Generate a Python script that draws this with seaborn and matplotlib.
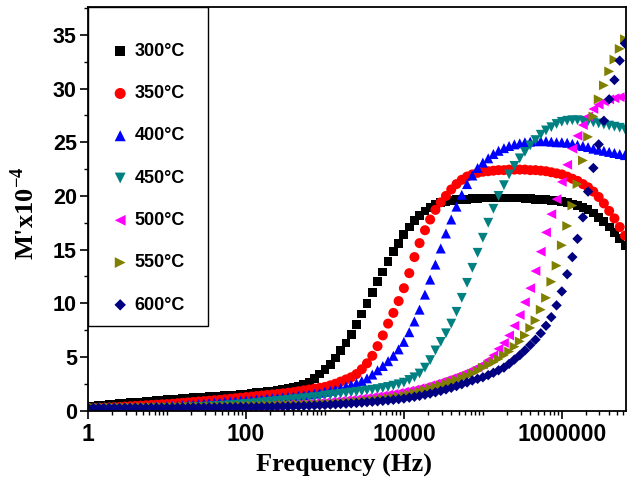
import matplotlib
matplotlib.use("Agg")
import numpy as np
import matplotlib.pyplot as plt
import seaborn as sns
from matplotlib.ticker import FixedLocator, LogLocator, MultipleLocator, FuncFormatter, NullFormatter
from matplotlib.patches import Rectangle

# ---------------- data ----------------
freq = [1, 1.17, 1.36, 1.58, 1.85, 2.15, 2.51, 2.93, 3.41, 3.98, 4.64, 5.41, 6.31, 7.36, 8.58,
        10, 11.7, 13.6, 15.8, 18.5, 21.5, 25.1, 29.3, 34.1, 39.8, 46.4, 54.1, 63.1, 73.6, 85.8,
        100, 117, 136, 158, 185, 215, 251, 293, 341, 398, 464, 541, 631, 736, 858,
        1000, 1170, 1360, 1580, 1850, 2150, 2510, 2930, 3410, 3980, 4640, 5410, 6310, 7360, 8580,
        1.0e4, 1.17e4, 1.36e4, 1.58e4, 1.85e4, 2.15e4, 2.51e4, 2.93e4, 3.41e4, 3.98e4, 4.64e4, 5.41e4, 6.31e4, 7.36e4, 8.58e4,
        1.0e5, 1.17e5, 1.36e5, 1.58e5, 1.85e5, 2.15e5, 2.51e5, 2.93e5, 3.41e5, 3.98e5, 4.64e5, 5.41e5, 6.31e5, 7.36e5, 8.58e5,
        1.0e6, 1.17e6, 1.36e6, 1.58e6, 1.85e6, 2.15e6, 2.51e6, 2.93e6, 3.41e6, 3.98e6, 4.64e6, 5.41e6, 6.31e6]

m300 = [0.35, 0.4, 0.45, 0.5, 0.55, 0.6, 0.64, 0.68, 0.72, 0.76, 0.8, 0.84, 0.88, 0.92, 0.96,
        1.0, 1.04, 1.08, 1.11, 1.15, 1.18, 1.22, 1.25, 1.28, 1.32, 1.35, 1.38, 1.42, 1.45, 1.5,
        1.55, 1.6, 1.65, 1.7, 1.76, 1.82, 1.9, 1.98, 2.06, 2.15, 2.27, 2.42, 2.6, 3.0, 3.4,
        3.8, 4.3, 4.9, 5.6, 6.3, 7.1, 8.0, 9.0, 10.0, 11.0, 12.0, 12.9, 13.9, 14.8, 15.6,
        16.4, 17.1, 17.7, 18.2, 18.6, 18.9, 19.2, 19.4, 19.5, 19.6, 19.65, 19.7, 19.7, 19.75, 19.75,
        19.8, 19.8, 19.8, 19.8, 19.8, 19.8, 19.8, 19.8, 19.75, 19.75, 19.7, 19.7, 19.65, 19.6, 19.55,
        19.5, 19.4, 19.25, 19.1, 18.9, 18.7, 18.4, 18.0, 17.6, 17.1, 16.6, 16.0, 15.4]

m350 = [0.2, 0.22, 0.24, 0.26, 0.28, 0.31, 0.34, 0.37, 0.4, 0.43, 0.46, 0.49, 0.52, 0.55, 0.58,
        0.6, 0.64, 0.68, 0.72, 0.76, 0.8, 0.84, 0.88, 0.92, 0.96, 1.0, 1.05, 1.1, 1.15, 1.2,
        1.25, 1.3, 1.35, 1.4, 1.45, 1.5, 1.55, 1.6, 1.66, 1.72, 1.8, 1.88, 1.96, 2.05, 2.12,
        2.2, 2.35, 2.5, 2.7, 2.9, 3.1, 3.4, 3.85, 4.4, 5.1, 6.0, 7.0, 8.1, 9.1, 10.2,
        11.4, 12.8, 14.3, 15.6, 16.8, 17.8, 18.7, 19.4, 20.0, 20.6, 21.1, 21.5, 21.8, 22.0, 22.15,
        22.25, 22.3, 22.35, 22.4, 22.4, 22.45, 22.45, 22.45, 22.45, 22.4, 22.4, 22.35, 22.3, 22.2, 22.1,
        22.0, 21.8, 21.6, 21.4, 21.1, 20.8, 20.4, 19.9, 19.3, 18.6, 17.9, 17.1, 16.3]

m400 = [0.15, 0.16, 0.17, 0.18, 0.19, 0.2, 0.22, 0.24, 0.26, 0.28, 0.3, 0.32, 0.34, 0.36, 0.38,
        0.4, 0.43, 0.46, 0.5, 0.53, 0.57, 0.61, 0.65, 0.69, 0.73, 0.77, 0.81, 0.85, 0.89, 0.92,
        0.95, 0.99, 1.03, 1.07, 1.11, 1.15, 1.19, 1.23, 1.27, 1.32, 1.37, 1.43, 1.5, 1.58, 1.66,
        1.75, 1.85, 1.95, 2.1, 2.25, 2.4, 2.55, 2.75, 3.0, 3.35, 3.75, 4.15, 4.6, 5.1, 5.7,
        6.4, 7.3, 8.3, 9.4, 10.8, 12.2, 13.6, 15.1, 16.5, 17.8, 19.0, 20.1, 21.1, 21.9, 22.6,
        23.1, 23.5, 23.9, 24.2, 24.45, 24.65, 24.8, 24.9, 25.0, 25.05, 25.1, 25.1, 25.1, 25.05, 25.0,
        25.0, 24.95, 24.85, 24.75, 24.65, 24.55, 24.4, 24.3, 24.2, 24.1, 24.0, 23.9, 23.8]

m450 = [0.1, 0.1, 0.11, 0.11, 0.12, 0.12, 0.13, 0.13, 0.14, 0.15, 0.16, 0.17, 0.18, 0.19, 0.2,
        0.2, 0.22, 0.24, 0.26, 0.28, 0.3, 0.32, 0.34, 0.37, 0.4, 0.43, 0.46, 0.5, 0.54, 0.58,
        0.62, 0.66, 0.7, 0.75, 0.8, 0.85, 0.9, 0.95, 1.0, 1.05, 1.1, 1.15, 1.2, 1.25, 1.3,
        1.4, 1.45, 1.5, 1.56, 1.62, 1.68, 1.74, 1.8, 1.87, 1.94, 2.0, 2.1, 2.2, 2.32, 2.45,
        2.6, 2.85, 3.1, 3.45, 4.0, 4.7, 5.6, 6.4, 7.2, 8.1, 9.2, 10.5, 11.9, 13.3, 14.7,
        16.1, 17.5, 18.8, 20.0, 21.0, 22.0, 22.8, 23.5, 24.1, 24.7, 25.2, 25.7, 26.1, 26.4, 26.7,
        26.9, 27.0, 27.05, 27.05, 27.0, 26.95, 26.85, 26.75, 26.65, 26.55, 26.45, 26.35, 26.2]

m500 = [0.05, 0.05, 0.06, 0.06, 0.07, 0.07, 0.08, 0.08, 0.09, 0.09, 0.1, 0.1, 0.11, 0.11, 0.12,
        0.12, 0.13, 0.14, 0.15, 0.16, 0.17, 0.18, 0.19, 0.2, 0.21, 0.22, 0.23, 0.25, 0.27, 0.29,
        0.31, 0.33, 0.35, 0.37, 0.39, 0.42, 0.45, 0.48, 0.51, 0.54, 0.57, 0.6, 0.64, 0.68, 0.72,
        0.76, 0.8, 0.85, 0.9, 0.95, 1.0, 1.06, 1.12, 1.18, 1.25, 1.32, 1.4, 1.48, 1.56, 1.65,
        1.75, 1.85, 1.96, 2.08, 2.2, 2.35, 2.5, 2.66, 2.83, 3.0, 3.18, 3.37, 3.57, 3.8, 4.05,
        4.3, 4.7, 5.15, 5.75, 6.3, 7.0, 7.9, 8.9, 10.1, 11.4, 13.0, 14.8, 16.6, 18.3, 19.7,
        21.3, 22.9, 24.4, 25.6, 26.6, 27.4, 28.1, 28.5, 28.8, 29.0, 29.1, 29.2, 29.2]

m550 = [0.3, 0.3, 0.3, 0.3, 0.31, 0.31, 0.31, 0.31, 0.32, 0.32, 0.32, 0.33, 0.33, 0.33, 0.34,
        0.34, 0.35, 0.35, 0.36, 0.36, 0.37, 0.37, 0.38, 0.39, 0.4, 0.41, 0.42, 0.43, 0.44, 0.45,
        0.46, 0.47, 0.48, 0.49, 0.5, 0.51, 0.52, 0.53, 0.54, 0.55, 0.56, 0.57, 0.58, 0.59, 0.6,
        0.62, 0.64, 0.67, 0.7, 0.74, 0.78, 0.82, 0.86, 0.91, 0.96, 1.02, 1.08, 1.15, 1.22, 1.3,
        1.4, 1.5, 1.62, 1.75, 1.9, 2.05, 2.2, 2.35, 2.5, 2.67, 2.85, 3.03, 3.22, 3.45, 3.7,
        4.0, 4.25, 4.5, 4.8, 5.15, 5.5, 5.95, 6.45, 7.0, 7.7, 8.4, 9.4, 10.5, 12.0, 13.5,
        15.4, 17.2, 19.1, 21.1, 23.3, 25.5, 27.4, 29.0, 30.3, 31.6, 32.7, 33.7, 34.6]

m600 = [0.25, 0.25, 0.25, 0.25, 0.25, 0.25, 0.25, 0.25, 0.26, 0.26, 0.26, 0.26, 0.26, 0.27, 0.27,
        0.27, 0.27, 0.28, 0.28, 0.28, 0.29, 0.29, 0.29, 0.3, 0.3, 0.31, 0.31, 0.32, 0.32, 0.33,
        0.33, 0.34, 0.34, 0.35, 0.35, 0.36, 0.37, 0.38, 0.39, 0.4, 0.42, 0.44, 0.46, 0.48, 0.5,
        0.52, 0.55, 0.58, 0.61, 0.64, 0.67, 0.7, 0.74, 0.78, 0.82, 0.86, 0.9, 0.95, 1.0, 1.06,
        1.12, 1.2, 1.28, 1.37, 1.47, 1.58, 1.7, 1.83, 1.97, 2.12, 2.28, 2.45, 2.62, 2.8, 2.95,
        3.1, 3.3, 3.52, 3.75, 4.0, 4.35, 4.75, 5.15, 5.6, 6.1, 6.6, 7.2, 7.9, 8.7, 9.8,
        11.1, 12.7, 14.3, 16.0, 18.0, 20.4, 22.6, 24.8, 27.0, 29.0, 30.8, 32.6, 34.2]

labels = ["300°C", "350°C", "400°C", "450°C", "500°C", "550°C", "600°C"]
series = [m300, m350, m400, m450, m500, m550, m600]

x_ticks = [1, 100, 10000, 1000000]
y_ticks = [0, 5, 10, 15, 20, 25, 30, 35]

# ---------------- styles ----------------
colors = ["#000000", "#FF0000", "#0000FF", "#008080", "#FF00FF", "#808000", "#000080"]
markers = ["s", "o", "^", "v", "<", ">", "D"]
sizes = [40, 52, 52, 50, 50, 50, 28]

sns.set_theme(style="ticks")
plt.rcParams["font.family"] = ["Liberation Sans", "DejaVu Sans"]
plt.rcParams["font.weight"] = "bold"
plt.rcParams["mathtext.fontset"] = "custom"
plt.rcParams["mathtext.rm"] = "Liberation Serif"
plt.rcParams["mathtext.bf"] = "Liberation Serif:bold"

fig = plt.figure(figsize=(6.27, 4.83), dpi=100)
ax = fig.add_axes([0.1404, 0.150, 0.858, 0.8355])

for lab, vals, mk, col, sz in zip(labels, series, markers, colors, sizes):
    sns.scatterplot(x=freq, y=vals, marker=mk, color=col, s=sz, edgecolor="none",
                    linewidth=0, label=lab, ax=ax)

ax.set_xscale("log")
ax.set_xlim(1, 6.5e6)
ax.set_ylim(0, 37.6)

ax.xaxis.set_major_locator(FixedLocator(x_ticks))
ax.xaxis.set_major_formatter(FuncFormatter(lambda v, p: f"{int(round(v))}"))
ax.xaxis.set_minor_locator(LogLocator(base=10, subs=np.arange(1, 10), numticks=100))
ax.xaxis.set_minor_formatter(NullFormatter())
ax.yaxis.set_major_locator(FixedLocator(y_ticks))
ax.yaxis.set_minor_locator(MultipleLocator(2.5))

ax.tick_params(axis="both", which="major", direction="out", length=6, width=1.2,
               color="black", labelcolor="black")
ax.tick_params(axis="both", which="minor", direction="out", length=3, width=1.0, color="black")
ax.tick_params(axis="x", which="major", labelsize=16.5, pad=3)
ax.tick_params(axis="y", which="major", labelsize=15.5, pad=2)
for t in ax.get_xticklabels() + ax.get_yticklabels():
    t.set_fontweight("bold")

for sp in ax.spines.values():
    sp.set_color("black")
    sp.set_linewidth(1.3)

ax.set_xlabel("Frequency (Hz)", fontfamily="Liberation Serif", fontweight="bold",
              fontsize=19, color="black", va="center", ha="center")
ax.xaxis.set_label_coords(0.475, -0.137)
ax.set_ylabel(r"M'x10$^{\mathbf{-4}}$", fontfamily="Liberation Serif", fontweight="bold",
              fontsize=19, color="black", va="center", ha="center")
ax.yaxis.set_label_coords(-0.117, 0.488)

# legend box
ax.add_patch(Rectangle((0, 0.2094), 0.223, 0.7906, transform=ax.transAxes,
                       facecolor="white", edgecolor="black", linewidth=1.0, zorder=4))
leg = ax.legend(loc="upper left", bbox_to_anchor=(0.043, 0.911), frameon=False,
                fontsize=13, labelspacing=1.40, handlelength=1.0, handletextpad=0.3,
                borderpad=0, borderaxespad=0, markerscale=1.1, scatterpoints=1)
leg.set_zorder(5)
for t in leg.get_texts():
    t.set_fontweight("bold")
    t.set_color("black")

fig.savefig("out.png", dpi=100)
